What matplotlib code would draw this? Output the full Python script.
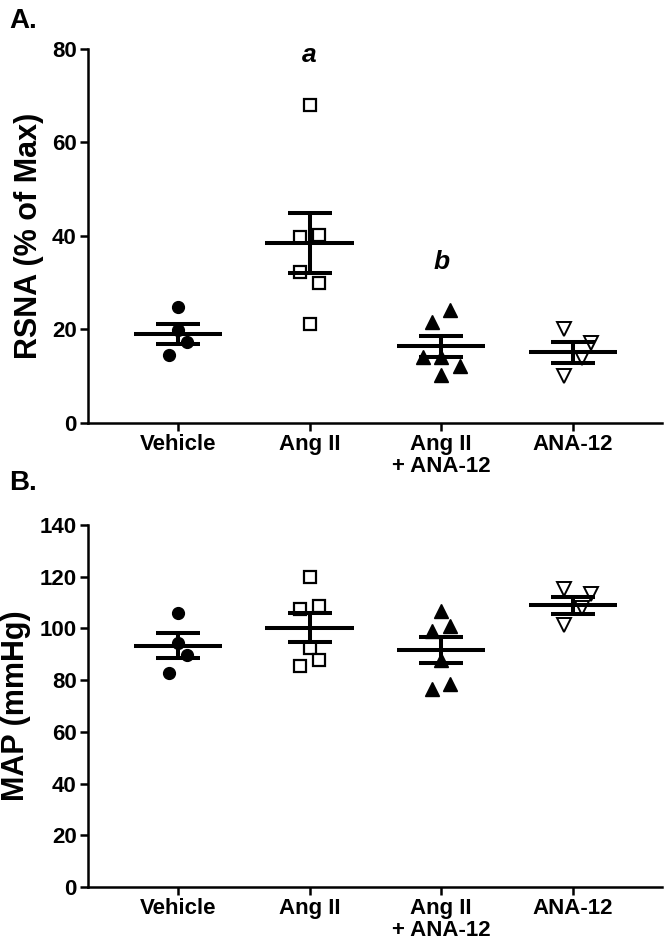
"""Scatter plots with mean +/- SEM for RSNA and MAP by treatment group."""
import matplotlib
matplotlib.use("Agg")
import matplotlib.pyplot as plt

plt.rcParams["font.family"] = ["Liberation Sans", "DejaVu Sans"]
plt.rcParams["font.weight"] = "bold"

groups = ["Vehicle", "Ang II", "Ang II\n+ ANA-12", "ANA-12"]

# Panel A: RSNA (% of Max)
rsna_vehicle = [24.7, 19.8, 17.4, 14.6]
rsna_angii = [68.0, 39.7, 40.1, 32.3, 30.0, 21.1]
rsna_angii_ana = [24.2, 21.7, 14.2, 14.2, 12.2, 10.3]
rsna_ana = [20.2, 17.1, 13.8, 10.0]
rsna_mean = [19.1, 38.5, 16.4, 15.1]
rsna_sem = [2.15, 6.5, 2.3, 2.2]

# Panel B: MAP (mmHg)
map_vehicle = [106.1, 94.5, 89.7, 82.8]
map_angii = [120.0, 107.7, 108.6, 92.3, 87.7, 85.4]
map_angii_ana = [106.6, 101.0, 98.9, 87.7, 78.4, 76.4]
map_ana = [115.3, 113.3, 108.1, 101.2]
map_mean = [93.3, 100.2, 91.7, 108.9]
map_sem = [4.9, 5.6, 5.1, 3.2]

# horizontal scatter offsets (category units), same order as values
jit_a = [[0, 0, 0.07, -0.07],
         [0, -0.07, 0.07, -0.07, 0.07, 0],
         [0.07, -0.07, -0.14, 0, 0.14, 0],
         [-0.07, 0.14, 0.07, -0.07]]
jit_b = [[0, 0, 0.07, -0.07],
         [0, -0.07, 0.07, 0, 0.07, -0.07],
         [0, 0.07, -0.07, 0, 0.07, -0.07],
         [-0.07, 0.14, 0.07, -0.07]]

markers = [
    dict(marker="o", color="black", markersize=8.5),
    dict(marker="s", markerfacecolor="white", markeredgecolor="black", markersize=9, markeredgewidth=1.6),
    dict(marker="^", color="black", markersize=9.5),
    dict(marker="v", markerfacecolor="white", markeredgecolor="black", markersize=10, markeredgewidth=1.4),
]


def draw_panel(ax, series, jitter, means, sems, ylim, yticks, ylabel):
    for i, vals in enumerate(series):
        xs = [i + j for j in jitter[i]]
        ax.plot(xs, vals, linestyle="none", zorder=2, **markers[i])
        ax.hlines(means[i], i - 0.335, i + 0.335, color="black", linewidth=2.9, zorder=3)
        ax.errorbar(i, means[i], yerr=sems[i], fmt="none", ecolor="black",
                    elinewidth=2.9, capsize=15.5, capthick=2.9, zorder=3)
    ax.set_xlim(-0.683, 3.675)
    ax.set_ylim(*ylim)
    ax.set_yticks(yticks)
    ax.set_xticks(range(len(groups)))
    ax.set_xticklabels(groups, fontsize=16, fontweight="bold", linespacing=1.05)
    ax.tick_params(axis="y", labelsize=16, width=1.8, length=6, pad=2)
    ax.tick_params(axis="x", width=1.8, length=6, pad=2)
    for lab in ax.get_yticklabels():
        lab.set_fontweight("bold")
    ax.spines["top"].set_visible(False)
    ax.spines["right"].set_visible(False)
    ax.spines["left"].set_linewidth(1.8)
    ax.spines["bottom"].set_linewidth(1.8)
    ax.set_ylabel(ylabel, fontsize=22, fontweight="bold", labelpad=6)


fig = plt.figure(figsize=(6.64, 9.41), dpi=100)
ax_a = fig.add_axes([0.1325, 0.5505, 0.864, 0.3975])
ax_b = fig.add_axes([0.1325, 0.0574, 0.864, 0.3846])

draw_panel(ax_a, [rsna_vehicle, rsna_angii, rsna_angii_ana, rsna_ana], jit_a,
           rsna_mean, rsna_sem, (0, 80), range(0, 81, 20), "RSNA (% of Max)")
draw_panel(ax_b, [map_vehicle, map_angii, map_angii_ana, map_ana], jit_b,
           map_mean, map_sem, (0, 140), range(0, 141, 20), "MAP (mmHg)")

ax_a.text(1, 78.7, "a", ha="center", va="center", fontsize=19, fontweight="bold", style="italic")
ax_a.text(2, 34.4, "b", ha="center", va="center", fontsize=19, fontweight="bold", style="italic")

fig.text(0.014, 0.992, "A.", fontsize=20, fontweight="bold", va="top")
fig.text(0.014, 0.5, "B.", fontsize=20, fontweight="bold", va="top")

fig.savefig("out.png", dpi=100)
plt.close(fig)
